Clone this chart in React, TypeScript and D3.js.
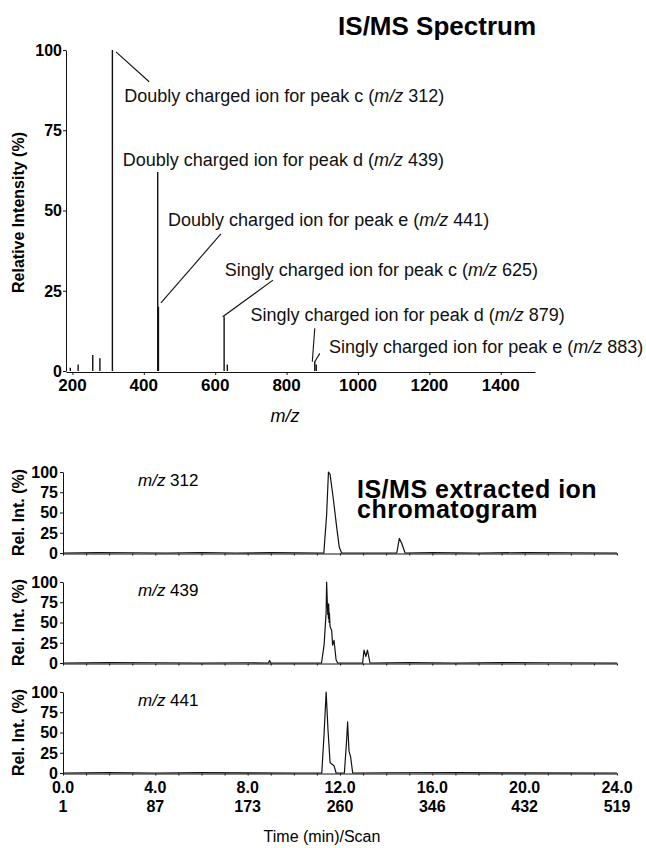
import { useEffect, useRef } from "react";
import * as d3 from "d3";

const FONT = "'Liberation Sans', Arial, Helvetica, sans-serif";

// IS/MS spectrum: sticks at m/z with relative intensity (%)
const specMz = [194, 216, 257, 277, 312, 439, 441, 625, 634, 879, 883];
const specInt = [1, 2, 5, 4, 100, 62, 20, 17, 2, 3, 2];
const mzTicks = [200, 400, 600, 800, 1000, 1200, 1400];
const intTicks = [0, 25, 50, 75, 100];

// annotation labels, placed in data units (m/z, intensity)
const annoText = [
  ["Doubly charged ion for peak c", "312"],
  ["Doubly charged ion for peak d", "439"],
  ["Doubly charged ion for peak e", "441"],
  ["Singly charged ion for peak c", "625"],
  ["Singly charged ion for peak d", "879"],
  ["Singly charged ion for peak e", "883"],
];
const annoAt = [
  [345, 83.8],
  [341, 63.9],
  [468, 45.2],
  [627, 29.6],
  [699, 15.6],
  [919, 5.6],
];
// leader lines: [mz0, int0, mz1, int1]
const leaders = [
  [322, 99.4, 415, 90.1],
  [448, 21.2, 616, 42.7],
  [621, 16.9, 762, 28.3],
  [872, 2.9, 879, 13.3],
  [879, 2.9, 893, 5.5],
];

// extracted ion chromatograms: [time (min), rel. int. %]
const eic312: [number, number][] = [
  [0, 0], [1.5, 0.5], [3, 0.3], [4.5, 0], [6, 0.6], [7.5, 0], [9, 0.4], [11.3, 0],
  [11.42, 47], [11.5, 100], [11.57, 97], [11.71, 67], [11.86, 31], [11.97, 7], [12.07, 0],
  [14.46, 0], [14.57, 18], [14.67, 12], [14.82, 0],
  [16, 0.4], [18, 0], [20, 0.5], [22, 0.3], [24, 0],
];
const eic439: [number, number][] = [
  [0, 0], [2, 0.5], [4, 0.3], [6, 0], [8, 0.3], [8.9, 0], [8.95, 3], [9.0, 0], [11.2, 0],
  [11.31, 22], [11.4, 63], [11.42, 100], [11.45, 75], [11.47, 60], [11.48, 72], [11.5, 55],
  [11.51, 73], [11.53, 50], [11.54, 62], [11.57, 45], [11.64, 40], [11.68, 22], [11.74, 28],
  [11.83, 4], [11.9, 0],
  [12.98, 0], [13.04, 16], [13.12, 8], [13.19, 16], [13.3, 0],
  [15, 0.4], [17, 0], [19, 0.5], [21, 0.3], [24, 0],
];
const eic441: [number, number][] = [
  [0, 0], [2, 0.4], [4, 0], [6, 0.5], [8, 0.2], [10, 0], [11.21, 0],
  [11.31, 48], [11.4, 100], [11.48, 53], [11.57, 13], [11.64, 11], [11.74, 9], [11.83, 0],
  [12.19, 0], [12.29, 42], [12.33, 63], [12.39, 27], [12.46, 20], [12.55, 0],
  [14, 0.3], [17, 0.4], [20, 0.2], [24, 0],
];
const eicSeries = [eic312, eic439, eic441];
const eicLabels = ["312", "439", "441"];
const timeTicks = [0, 4, 8, 12, 16, 20, 24];
const scanTicks = [1, 87, 173, 260, 346, 432, 519];
const relTicks = [0, 25, 50, 75, 100];

function drawChart(svgEl: SVGSVGElement) {
  const svg = d3.select(svgEl);
  svg.selectAll("*").remove();
  svg.attr("font-family", FONT);

  // ---------- spectrum ----------
  const x = d3.scaleLinear().domain([182, 1496]).range([66, 535]);
  const y = d3.scaleLinear().domain([0, 100]).range([371, 50]);

  svg
    .append("text")
    .attr("x", 536)
    .attr("y", 35)
    .attr("text-anchor", "end")
    .attr("font-size", 26)
    .attr("font-weight", "bold")
    .text("IS/MS Spectrum");

  // x axis
  const gx = svg
    .append("g")
    .attr("transform", `translate(0,${y(0) + 1})`)
    .call(d3.axisBottom(x).tickValues(mzTicks).tickSize(3).tickSizeOuter(0).tickFormat(() => ""));
  gx.selectAll("path, line").attr("stroke", "#111");
  svg
    .append("g")
    .selectAll("text")
    .data(mzTicks)
    .join("text")
    .attr("x", (d) => x(d))
    .attr("y", 391)
    .attr("text-anchor", "middle")
    .attr("font-size", 17)
    .attr("font-weight", "bold")
    .text((d) => d);

  // y axis
  const gy = svg
    .append("g")
    .attr("transform", `translate(${x.range()[0]},0)`)
    .call(d3.axisLeft(y).tickValues(intTicks).tickSize(3).tickSizeOuter(0).tickFormat(() => ""));
  gy.selectAll("path, line").attr("stroke", "#111");
  svg
    .append("g")
    .selectAll("text")
    .data(intTicks)
    .join("text")
    .attr("x", 62)
    .attr("y", (d) => y(d))
    .attr("dy", "0.36em")
    .attr("text-anchor", "end")
    .attr("font-size", 16)
    .attr("font-weight", "bold")
    .text((d) => d);

  svg
    .append("text")
    .attr("transform", `translate(24,${(y(0) + y(100)) / 2 + 2}) rotate(-90)`)
    .attr("text-anchor", "middle")
    .attr("font-size", 16)
    .attr("font-weight", "bold")
    .text("Relative Intensity (%)");

  const mzLabel = svg
    .append("text")
    .attr("x", 285)
    .attr("y", 422)
    .attr("text-anchor", "middle")
    .attr("font-size", 18)
    .attr("font-style", "italic")
    .text("m/z");

  // sticks
  svg
    .append("g")
    .selectAll("line")
    .data(specMz)
    .join("line")
    .attr("x1", (d) => x(d))
    .attr("x2", (d) => x(d))
    .attr("y1", y(0))
    .attr("y2", (d, i) => y(specInt[i]))
    .attr("stroke", "#111")
    .attr("stroke-width", 1.4);

  // leaders
  svg
    .append("g")
    .selectAll("line")
    .data(leaders)
    .join("line")
    .attr("x1", (d) => x(d[0]))
    .attr("y1", (d) => y(d[1]))
    .attr("x2", (d) => x(d[2]))
    .attr("y2", (d) => y(d[3]))
    .attr("stroke", "#111")
    .attr("stroke-width", 1.1);

  // annotation text
  const anno = svg
    .append("g")
    .selectAll("text")
    .data(annoText)
    .join("text")
    .attr("x", (d, i) => x(annoAt[i][0]))
    .attr("y", (d, i) => y(annoAt[i][1]))
    .attr("font-size", 18)
    .attr("fill", "#111");
  anno.append("tspan").text((d) => d[0] + " (");
  anno.append("tspan").attr("font-style", "italic").text("m/z");
  anno.append("tspan").text((d) => " " + d[1] + ")");

  // ---------- chromatograms ----------
  const t = d3.scaleLinear().domain([0, 24]).range([63, 617]);
  const panelTop = [472, 582, 692];
  const panelH = 81;

  eicSeries.forEach((series, i) => {
    const yr = d3
      .scaleLinear()
      .domain([0, 100])
      .range([panelTop[i] + panelH, panelTop[i]]);

    const ax = svg
      .append("g")
      .attr("transform", `translate(0,${yr(0) + 0.5})`)
      .call(d3.axisBottom(t).ticks(24).tickSize(2).tickSizeOuter(0).tickFormat(() => ""));
    ax.selectAll("path, line").attr("stroke", "#111");

    const ay = svg
      .append("g")
      .attr("transform", `translate(${t(0)},0)`)
      .call(d3.axisLeft(yr).tickValues(relTicks).tickSize(3).tickSizeOuter(0).tickFormat(() => ""));
    ay.selectAll("path, line").attr("stroke", "#111");

    svg
      .append("g")
      .selectAll("text")
      .data(relTicks)
      .join("text")
      .attr("x", 58)
      .attr("y", (d) => yr(d))
      .attr("dy", "0.36em")
      .attr("text-anchor", "end")
      .attr("font-size", 16)
      .attr("font-weight", "bold")
      .text((d) => d);

    svg
      .append("text")
      .attr("transform", `translate(24,${panelTop[i] + panelH / 2}) rotate(-90)`)
      .attr("text-anchor", "middle")
      .attr("font-size", 16)
      .attr("font-weight", "bold")
      .text("Rel. Int. (%)");

    const lab = svg
      .append("text")
      .attr("x", 138)
      .attr("y", panelTop[i] + 14)
      .attr("font-size", 17);
    lab.append("tspan").attr("font-style", "italic").text("m/z");
    lab.append("tspan").text(" " + eicLabels[i]);

    const line = d3
      .line<[number, number]>()
      .x((d) => t(d[0]))
      .y((d) => yr(d[1]));
    svg
      .append("path")
      .attr("d", line(series))
      .attr("fill", "none")
      .attr("stroke", "#111")
      .attr("stroke-width", 1.2)
      .attr("stroke-linejoin", "round");
  });

  const title = svg
    .append("text")
    .attr("x", 357)
    .attr("font-size", 25)
    .attr("font-weight", "bold")
    .attr("letter-spacing", 0.5);
  title.append("tspan").attr("x", 357).attr("y", 498).text("IS/MS extracted ion");
  title.append("tspan").attr("x", 357).attr("y", 518).text("chromatogram");

  svg
    .append("g")
    .selectAll("text")
    .data(timeTicks)
    .join("text")
    .attr("x", (d) => t(d))
    .attr("y", 793)
    .attr("text-anchor", "middle")
    .attr("font-size", 16)
    .attr("font-weight", "bold")
    .text((d) => d.toFixed(1));
  svg
    .append("g")
    .selectAll("text")
    .data(scanTicks)
    .join("text")
    .attr("x", (d, i) => t(timeTicks[i]))
    .attr("y", 812)
    .attr("text-anchor", "middle")
    .attr("font-size", 16)
    .attr("font-weight", "bold")
    .text((d) => d);

  svg
    .append("text")
    .attr("x", 322)
    .attr("y", 842)
    .attr("text-anchor", "middle")
    .attr("font-size", 16)
    .text("Time (min)/Scan");

  mzLabel.raise();
}

export default function App() {
  const ref = useRef<SVGSVGElement>(null);
  useEffect(() => {
    if (ref.current) drawChart(ref.current);
  }, []);
  return (
    <svg
      ref={ref}
      width={646}
      height={848}
      style={{ position: "absolute", left: 0, top: 0, background: "#fff" }}
    />
  );
}
